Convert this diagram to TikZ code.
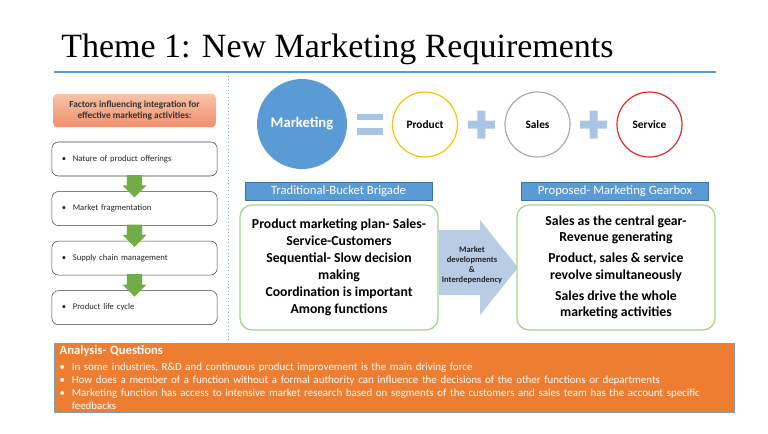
\documentclass[tikz,border=0pt]{standalone}
\usepackage{fontspec}
\setmainfont{Carlito}
\newfontfamily\titlefont{Liberation Serif}
\usetikzlibrary{
	positioning,
	shapes.arrows,
	calc
}
\definecolor{RuleBlue}{RGB}{91,155,213}
\definecolor{MarkBlue}{RGB}{91,155,213}
\definecolor{HeadEdge}{RGB}{65,113,156}
\definecolor{PlusBlue}{RGB}{170,196,230}
\definecolor{FlowBlue}{RGB}{184,204,228}
\definecolor{ProductYellow}{RGB}{255,192,0}
\definecolor{SalesGrey}{RGB}{170,170,170}
\definecolor{ServiceRed}{RGB}{230,40,40}
\definecolor{LeafGreen}{RGB}{112,173,71}
\definecolor{PaleGreen}{RGB}{169,209,142}
\definecolor{AnalysisOrange}{RGB}{237,125,49}
\definecolor{SalmonTop}{RGB}{248,196,168}
\definecolor{SalmonBottom}{RGB}{240,142,108}

\tikzset{
	factorhead/.style={
		rounded corners=3pt,
		top color=SalmonTop,
		bottom color=SalmonBottom,
		minimum width=122pt,
		minimum height=25pt,
		align=center,
		font=\bfseries\fontsize{7}{8.5}\selectfont,
		text=black!80
	},
	factorbox/.style={
		draw=black!75,
		rounded corners=5pt,
		fill=white,
		text width=109pt,
		inner xsep=7.5pt,
		minimum height=25.5pt,
		align=left,
		font=\fontsize{6.5}{7.5}\selectfont,
		text=black!85
	},
	leafarrow/.style={
		single arrow,
		shape border rotate=270,
		fill=LeafGreen,
		inner sep=5.25pt,
		minimum width=18pt,
		minimum height=16pt,
		single arrow head extend=3pt
	},
	ring/.style={
		circle,
		draw,
		line width=0.9pt,
		fill=white,
		minimum size=48.75pt,
		font=\bfseries\fontsize{8.5}{10}\selectfont
	},
	headbar/.style={
		fill=MarkBlue,
		draw=HeadEdge,
		line width=0.4pt,
		minimum width=140pt,
		minimum height=13.5pt,
		inner sep=0pt,
		text=white,
		font=\fontsize{9.5}{10}\selectfont
	},
	ideabox/.style={
		draw=PaleGreen,
		line width=1pt,
		rounded corners=9pt,
		fill=white,
		minimum width=148.5pt,
		minimum height=93.75pt,
		align=center,
		font=\bfseries\fontsize{10.3}{12.75}\selectfont
	},
	analysisbox/.style={
		fill=AnalysisOrange,
		draw=HeadEdge!70,
		line width=0.5pt,
		text width=502pt,
		inner xsep=4pt,
		inner ysep=1pt,
		minimum height=51.75pt,
		align=left,
		text=white,
		font=\fontsize{8.2}{9.75}\selectfont
	}
}

\begin{document}
\begin{tikzpicture}[x=0.75pt,y=-0.75pt]
	\useasboundingbox (0,0) rectangle (768,433);
	
	% Title
	\node[
	anchor=base west,
	inner sep=0pt,
	font=\titlefont\fontsize{25.5}{30}\selectfont
	]
	(title) at (61,57) {Theme 1: New Marketing Requirements};
	
	\draw[
	RuleBlue,
	line width=0.8pt
	]
	(54,72) -- (716,72);
	
	\draw[
	RuleBlue!80,
	dotted,
	line width=0.6pt
	]
	(228,76) -- (228,342);
	
	% Factors column
	\node[factorhead] (factors) at (134.5,110.5)
	{Factors influencing integration for\\effective marketing activities:};
	
	\node[factorbox] (nature) at (134.5,159)
	{\textbullet\hspace{5pt}Nature of product offerings};
	
	\node[factorbox, below=11.25pt of nature] (fragment)
	{\textbullet\hspace{5pt}Market fragmentation};
	
	\node[factorbox, below=11.25pt of fragment] (supply)
	{\textbullet\hspace{5pt}Supply chain management};
	
	\node[factorbox, below=11.25pt of supply] (lifecycle)
	{\textbullet\hspace{5pt}Product life cycle};
	
	\node[leafarrow, yshift=1pt] (leafA)
	at ($(nature.south)!0.5!(fragment.north)$) {};
	
	\node[leafarrow, yshift=1pt] (leafB)
	at ($(fragment.south)!0.5!(supply.north)$) {};
	
	\node[leafarrow, yshift=1pt] (leafC)
	at ($(supply.south)!0.5!(lifecycle.north)$) {};
	
	% Marketing equation
	\node[
	circle,
	fill=MarkBlue,
	minimum size=67.5pt,
	text=white,
	font=\bfseries\fontsize{11}{12}\selectfont
	]
	(marketing) at (302,124) {Marketing};
	
	\node[ring, draw=ProductYellow] (product) at (425,124.5) {Product};
	
	\node[ring, draw=SalesGrey] (sales) at (537.5,124.5) {Sales};
	
	\node[ring, draw=ServiceRed] (service) at (649.5,124.5) {Service};
	
	\coordinate (equal) at ($(marketing.east)!0.5!(product.west)$);
	\coordinate (plusA) at ($(product.east)!0.5!(sales.west)$);
	\coordinate (plusB) at ($(sales.east)!0.5!(service.west)$);
	
	\fill[PlusBlue]
	($(equal)+(-13,-10)$) rectangle ($(equal)+(13,-4)$);
	
	\fill[PlusBlue]
	($(equal)+(-13,4)$) rectangle ($(equal)+(13,11)$);
	
	\fill[PlusBlue]
	($(plusA)+(-13.5,-4)$) rectangle ($(plusA)+(13.5,4)$)
	($(plusA)+(-4,-14)$) rectangle ($(plusA)+(4,14)$);
	
	\fill[PlusBlue]
	($(plusB)+(-13.5,-4)$) rectangle ($(plusB)+(13.5,4)$)
	($(plusB)+(-4,-14)$) rectangle ($(plusB)+(4,14)$);
	
	% Traditional side
	\node[headbar] (tradhead) at (338.5,191) {Traditional-Bucket Brigade};
	
	\node[ideabox] (tradbox) at (339,267.5)
	{Product marketing plan- Sales-\\Service-Customers\\Sequential- Slow decision\\making\\Coordination is important\\Among functions};
	
	% Transition arrow
	\fill[FlowBlue]
	(439,230) -- (480,230) -- (480,220) -- (518,267.5)
	-- (480,315) -- (480,295) -- (439,295) -- cycle;
	
	\node[
	align=center,
	inner sep=0pt,
	font=\bfseries\fontsize{6.4}{7.5}\selectfont,
	text=black!85
	]
	(flowtext) at (472,265.5) {Market\\developments\\\&\\Interdependency};
	
	% Proposed side
	\node[headbar] (gearhead) at (615,191) {Proposed- Marketing Gearbox};
	
	\node[
	ideabox,
	font=\bfseries\fontsize{10.3}{12.4}\selectfont
	]
	(gearbox) at (616,267.5)
	{Sales as the central gear-\\Revenue generating\\[3.3pt]Product, sales \& service\\revolve simultaneously\\[3.3pt]Sales drive the whole\\marketing activities};
	
	% Questions
	\node[analysisbox, anchor=north west] (analysis) at (54,343)
	{{\bfseries\fontsize{9.5}{9.75}\selectfont Analysis- Questions}\\[2.5pt]
	\textbullet\hspace{5pt}In some industries, R\&D and continuous product improvement is the main driving force\\
	\textbullet\hspace{5pt}How does a member of a function without a formal authority can influence the decisions of the other functions or departments\\
	\textbullet\hspace{5pt}Marketing function has access to intensive market research based on segments of the customers and sales team has the account specific\\
	\hphantom{\textbullet\hspace{5pt}}feedbacks};
	
\end{tikzpicture}
\end{document}
